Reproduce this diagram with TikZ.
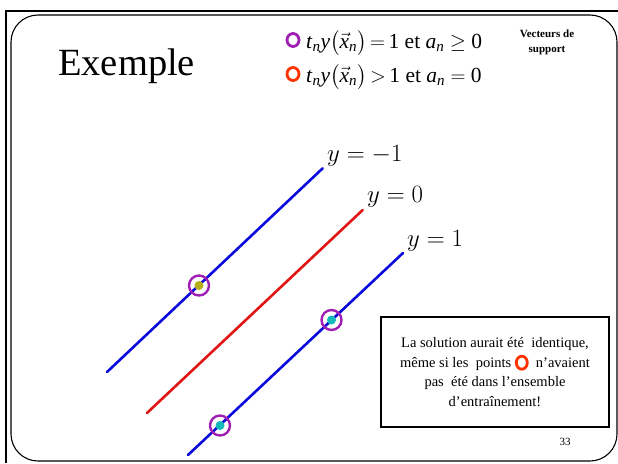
\documentclass[tikz,border=0pt]{standalone}
\usepackage{amsmath}
\usepackage{fontspec}
\usetikzlibrary{shapes.geometric}
\setmainfont{Liberation Serif}
\newfontfamily\legfont{Liberation Serif}
\definecolor{lblue}{RGB}{10,10,220}
\definecolor{lred}{RGB}{225,20,20}
\definecolor{ringpurple}{RGB}{160,30,180}
\definecolor{ringorange}{RGB}{255,50,0}
\definecolor{ptolive}{RGB}{180,175,20}
\definecolor{ptcyan}{RGB}{20,185,185}
\newcommand{\lm}[1]{\textit{#1}}
\begin{document}
\begin{tikzpicture}[x=1pt,y=-1pt,
  frameline/.style={line width=2.4pt,black},
  slideframe/.style={line width=1.1pt,black,rounded corners=27pt},
  margline/.style={line width=2.6pt,line cap=round},
  ring/.style={draw=ringpurple,line width=2.4pt,circle,minimum size=20pt,inner sep=0pt},
  dotpt/.style={circle,inner sep=0pt,minimum size=9pt},
  legring/.style={draw,line width=2.8pt,ellipse,minimum width=12pt,minimum height=13pt,inner sep=0pt},
  eqlab/.style={inner sep=0pt,anchor=base west,font=\fontsize{26}{30}\selectfont},
  legtext/.style={inner sep=0pt,anchor=base west,font=\legfont\fontsize{21.5}{26}\selectfont}]
\useasboundingbox (0,0) rectangle (618,463);
% frame
\draw[frameline] (618,11) -- (6,11) -- (6,463);
\draw[slideframe] (11,15) rectangle (617,461);
% title
\node[inner sep=0pt,anchor=base west,font=\fontsize{38.5}{44}\selectfont] (title) at (58,75) {Exemple};
% legend
\node[legring,draw=ringpurple] (leg1) at (293,40) {};
\node[legtext] (legt1) at (306,48) {\lm{t}$_{\lm{n}}$\lm{y}$\bigl(\vec{\lm{x}}_{\lm{n}}\bigr)\,{=}\,$1 et \lm{a}$_{\lm{n}}$ $\geq$ 0};
\node[legring,draw=ringorange] (leg2) at (293,74) {};
\node[legtext] (legt2) at (306,82) {\lm{t}$_{\lm{n}}$\lm{y}$\bigl(\vec{\lm{x}}_{\lm{n}}\bigr)\,{>}\,$1 et \lm{a}$_{\lm{n}}$ $=$ 0};
\node[align=center,font=\bfseries\fontsize{11}{15}\selectfont,inner sep=0pt] (vs) at (547,42) {Vecteurs de\\support};
% lines
\coordinate (am) at (107,372); \coordinate (bm) at (322.7,168.3);
\coordinate (a0) at (147,413); \coordinate (b0) at (362.7,210);
\coordinate (ap) at (188,455); \coordinate (bp) at (403,253);
\draw[margline,lblue] (am) -- (bm);
\draw[margline,lred] (a0) -- (b0);
\draw[margline,lblue] (ap) -- (bp);
\node[eqlab] (lm1) at (327,161) {$y=-1$};
\node[eqlab] (l0) at (367,202) {$y=0$};
\node[eqlab] (lp1) at (407,246) {$y=1$};
% points
\node[dotpt,fill=ptolive] (p1) at (199,285.5) {};
\node[ring] (r1) at (199,285.5) {};
\node[dotpt,fill=ptcyan] (p2) at (331.5,320) {};
\node[ring] (r2) at (331.5,320) {};
\node[dotpt,fill=ptcyan] (p3) at (220,425.5) {};
\node[ring] (r3) at (220,425.5) {};
% box
\node[draw,line width=1.1pt,minimum width=228pt,minimum height=110pt,inner sep=0pt] (box) at (495,372) {};
\node[align=center,font=\fontsize{14.5}{19.5}\selectfont,inner sep=0pt] (boxtxt) at (495,372)
  {La solution aurait été \ identique,\\même si les \ points \tikz[baseline=-4.5pt]\draw[ringorange,line width=2.8pt] (0,0) ellipse (5.5pt and 6.5pt); \ n’avaient\\pas \ été dans l’ensemble\\d’entraînement!};
\node[font=\fontsize{11}{13}\selectfont,inner sep=0pt] (pg) at (565,442) {33};
\end{tikzpicture}
\end{document}
